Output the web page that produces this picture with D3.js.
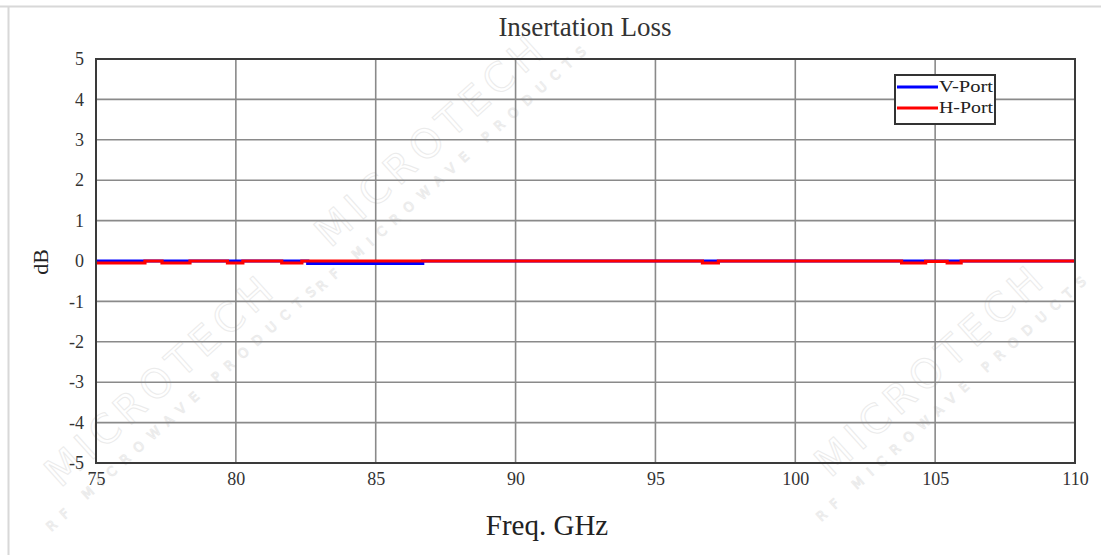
<!DOCTYPE html>
<html><head><meta charset="utf-8">
<script src="https://cdn.jsdelivr.net/npm/d3@7"></script>
<style>body{margin:0;background:#fff;} svg{display:block;font-family:"Liberation Serif","DejaVu Serif",serif;}</style>
</head><body>
<svg id="c" width="1101" height="555"></svg>
<script>
// Step breakpoints (frequency in GHz, value in dB held until next breakpoint)
const vFreq = [75, 82.57, 86.68, 110];
const vVals = [0.0, -0.06, 0.0, 0.0];
const hFreq = [75, 76.75, 77.36, 78.36, 79.7, 80.25, 81.64, 82.36, 96.68, 97.25, 103.8, 104.66, 105.43, 105.93, 110];
const hVals = [-0.05, 0.0, -0.05, 0.0, -0.05, 0.0, -0.05, 0.0, -0.05, 0.0, -0.05, -0.01, -0.05, 0.0, 0.0];
const xTicks = [75, 80, 85, 90, 95, 100, 105, 110];
const yTicks = [5, 4, 3, 2, 1, 0, -1, -2, -3, -4, -5];
const seriesNames = ["V-Port", "H-Port"];
const seriesColors = ["#0000ff", "#ff0000"];

const svg = d3.select("#c");
const m = {l: 96, r: 1075, t: 59, b: 463};
const x = d3.scaleLinear().domain([75, 110]).range([m.l, m.r]);
const y = d3.scaleLinear().domain([-5, 5]).range([m.b, m.t]);

// outer thin frame lines
svg.append("line").attr("x1", 0).attr("x2", 1101).attr("y1", 6.5).attr("y2", 6.5).attr("stroke", "#d8d8d8").attr("stroke-width", 2);
svg.append("line").attr("x1", 8.5).attr("x2", 8.5).attr("y1", 6).attr("y2", 555).attr("stroke", "#d8d8d8").attr("stroke-width", 2);

// faint watermark
const wm = svg.append("g").attr("fill", "none").attr("stroke", "#ebebeb").attr("stroke-width", 1)
  .attr("font-family", "DejaVu Sans, sans-serif");
function mark(cx, cy) {
  const g = wm.append("g").attr("transform", `translate(${cx},${cy}) rotate(-42)`);
  g.append("text").attr("text-anchor", "middle").attr("font-size", 40).attr("letter-spacing", 6).text("MICROTECH");
  g.append("text").attr("text-anchor", "middle").attr("y", 26).attr("font-size", 13).attr("letter-spacing", 9).text("RF MICROWAVE PRODUCTS");
}
mark(440, 150); mark(170, 390); mark(940, 380);

// gridlines
svg.append("g").selectAll("line").data(xTicks.slice(1, -1)).join("line")
  .attr("x1", d => x(d)).attr("x2", d => x(d)).attr("y1", m.t).attr("y2", m.b)
  .attr("stroke", "#8a8a8a").attr("stroke-width", 1.6);
svg.append("g").selectAll("line").data(yTicks.slice(1, -1)).join("line")
  .attr("x1", m.l).attr("x2", m.r).attr("y1", d => y(d)).attr("y2", d => y(d))
  .attr("stroke", "#8a8a8a").attr("stroke-width", 1.6);

// axes labels via d3 axes
const xa = svg.append("g").attr("transform", `translate(0,${m.b})`)
  .call(d3.axisBottom(x).tickValues(xTicks).tickSize(0).tickPadding(9).tickFormat(d => String(d)));
const ya = svg.append("g").attr("transform", `translate(${m.l},0)`)
  .call(d3.axisLeft(y).tickValues(yTicks).tickSize(0).tickPadding(12).tickFormat(d => String(d)));
[xa, ya].forEach(a => {
  a.attr("font-family", null).attr("font-size", null);
  a.select(".domain").remove();
  a.selectAll("text").style("font-family", "'Liberation Serif', serif").style("font-size", "18px").attr("fill", "#333");
});
ya.selectAll("text").attr("dy", "0.32em");

// data lines
function pts(f, v) { return f.map((d, i) => [d, v[i]]); }
const line = d3.line().x(d => x(d[0])).y(d => y(d[1])).curve(d3.curveStepAfter);
const data = [pts(vFreq, vVals), pts(hFreq, hVals)];
svg.append("g").selectAll("path").data(data).join("path")
  .attr("d", line).attr("fill", "none")
  .attr("stroke", (d, i) => seriesColors[i]).attr("stroke-width", 3.2);

// plot frame
svg.append("rect").attr("x", m.l).attr("y", m.t).attr("width", m.r - m.l).attr("height", m.b - m.t)
  .attr("fill", "none").attr("stroke", "#3a3a3a").attr("stroke-width", 2);

// title
svg.append("text").attr("x", 585).attr("y", 36).attr("text-anchor", "middle")
  .attr("font-size", 27).attr("fill", "#333").text("Insertation Loss");
// axis titles
svg.append("text").attr("x", 547).attr("y", 535).attr("text-anchor", "middle")
  .attr("font-size", 29).attr("fill", "#222").text("Freq. GHz");
svg.append("text").attr("transform", `translate(48,262) rotate(-90)`).attr("text-anchor", "middle")
  .attr("font-size", 22).attr("fill", "#222").text("dB");

// legend
const lg = svg.append("g");
lg.append("rect").attr("x", 895).attr("y", 75).attr("width", 100).attr("height", 49)
  .attr("fill", "#fff").attr("stroke", "#333").attr("stroke-width", 2);
lg.selectAll("line").data(seriesNames).join("line")
  .attr("x1", 897).attr("x2", 938).attr("y1", (d, i) => 87 + i * 21).attr("y2", (d, i) => 87 + i * 21)
  .attr("stroke", (d, i) => seriesColors[i]).attr("stroke-width", 3);
lg.selectAll("text").data(seriesNames).join("text")
  .attr("x", 939).attr("y", (d, i) => 92 + i * 21).attr("font-size", 17)
  .attr("textLength", 54).attr("lengthAdjust", "spacingAndGlyphs").attr("fill", "#222").text(d => d);
</script>
</body></html>
